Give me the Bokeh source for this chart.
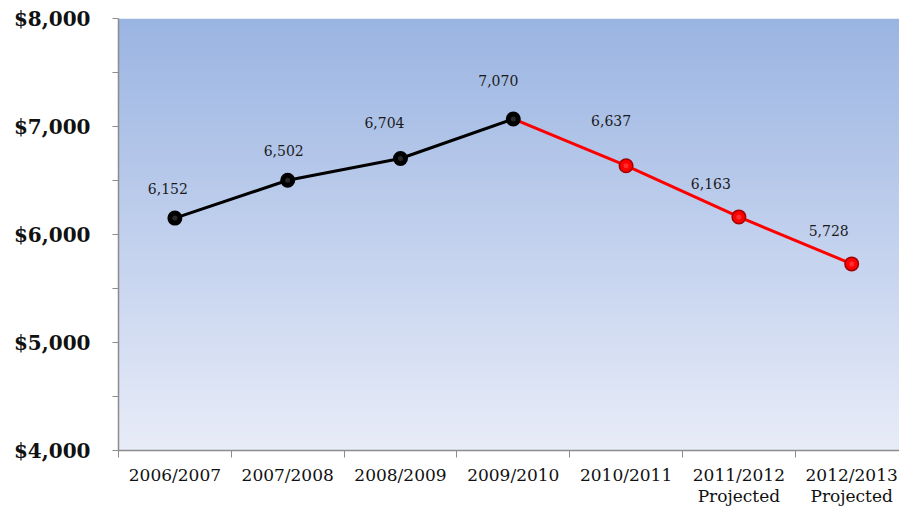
import numpy as np
from bokeh.plotting import figure
from bokeh.models import FixedTicker, Range1d, NumeralTickFormatter, ColumnDataSource
from bokeh.core.properties import value
from bokeh.embed import file_html
from bokeh.resources import INLINE

# ---- data ----
years = ["2006/2007", "2007/2008", "2008/2009", "2009/2010",
         "2010/2011", "2011/2012\nProjected", "2012/2013\nProjected"]
amounts = [6152, 6502, 6704, 7070, 6637, 6163, 5728]
actual_count = 4          # first 4 points are actual (black), rest red
y_ticks = [4000, 5000, 6000, 7000, 8000]

# label nudges (pixels), style only
label_dx = [-7, -4, -16, -15, -15, -28, -23]
label_dy = [30, 30, 36, 38, 45, 33, 33]

xs = list(range(len(years)))

p = figure(width=899, height=508, output_backend="svg", toolbar_location=None,
           x_range=Range1d(-0.5, 6.424), y_range=Range1d(4000, 8000),
           min_border_left=118, min_border_right=0, min_border_top=18,
           min_border_bottom=55)
p.outline_line_color = None
p.background_fill_color = "white"
p.border_fill_color = "white"

# gradient background
n = 120
edges = np.linspace(4000, 8000, n + 1)
step = edges[1] - edges[0]
top_c = np.array([154, 180, 226])
bot_c = np.array([232, 236, 248])
cols = []
for i in range(n):
    t = (i + 0.5) / n
    c = bot_c + (top_c - bot_c) * t
    cols.append("#%02x%02x%02x" % tuple(int(round(v)) for v in c))
p.quad(left=-0.5, right=7.0, bottom=edges[:-1], top=np.minimum(edges[1:] + step * 0.6, 8000),
       fill_color=cols, line_color=None)

# grid
p.xgrid.visible = False
p.ygrid.ticker = FixedTicker(ticks=y_ticks)
p.ygrid.grid_line_color = "white"
p.ygrid.grid_line_alpha = 0.35
p.ygrid.grid_line_width = 1

# lines
p.line(xs[:actual_count], amounts[:actual_count], line_color="black", line_width=3)
p.line(xs[actual_count - 1:], amounts[actual_count - 1:], line_color="#ff0000", line_width=3)

# markers
mcol = ["black"] * actual_count + ["#ff0000"] * (len(xs) - actual_count)
medge = ["#000000"] * actual_count + ["#a00000"] * (len(xs) - actual_count)
hcol = ["#3a3a3a"] * actual_count + ["#ff4040"] * (len(xs) - actual_count)
p.scatter(xs, amounts, size=15, fill_color=medge, line_color=None)
p.scatter(xs, amounts, size=12, fill_color=mcol, line_color=None)
p.scatter(xs, amounts, size=5, fill_color=hcol, line_color=None, fill_alpha=0.7)

# value labels
src = ColumnDataSource(dict(x=xs, y=amounts,
                            t=["{:,}".format(a) for a in amounts],
                            dx=label_dx, dy=[-d for d in label_dy]))
p.text(x="x", y="y", text="t", x_offset="dx", y_offset="dy", source=src,
       text_font=value("DejaVu Serif"), text_font_size="14px",
       text_color="#1a1a1a", text_align="center", text_baseline="middle")

# y axis
ya = p.yaxis[0]
ya.ticker = FixedTicker(ticks=y_ticks, minor_ticks=list(range(4500, 8000, 1000)))
ya.formatter = NumeralTickFormatter(format="$0,0")
ya.major_label_text_font = "DejaVu Serif"
ya.major_label_text_font_style = "bold"
ya.major_label_text_font_size = "20px"
ya.major_label_text_color = "#111111"
ya.axis_line_color = "#8c8c8c"
ya.axis_line_width = 1.5
ya.major_tick_line_color = "#8c8c8c"
ya.minor_tick_line_color = "#8c8c8c"
ya.major_tick_in = 0
ya.major_tick_out = 6
ya.minor_tick_in = 0
ya.minor_tick_out = 6
ya.major_label_standoff = 22

# x axis
xa = p.xaxis[0]
xa.ticker = FixedTicker(ticks=xs, minor_ticks=[i - 0.5 for i in range(len(xs) + 1)])
xa.major_label_overrides = {i: years[i] for i in xs}
xa.major_label_text_font = "DejaVu Serif"
xa.major_label_text_font_size = "17px"
xa.major_label_text_color = "#111111"
xa.major_label_text_line_height = 1.05
xa.axis_line_color = "#8c8c8c"
xa.axis_line_width = 1.5
xa.major_tick_line_color = None
xa.major_tick_in = 0
xa.major_tick_out = 0
xa.minor_tick_line_color = "#8c8c8c"
xa.minor_tick_in = 0
xa.minor_tick_out = 7
xa.major_label_standoff = 7

open("out.html", "w").write(file_html(p, INLINE))
